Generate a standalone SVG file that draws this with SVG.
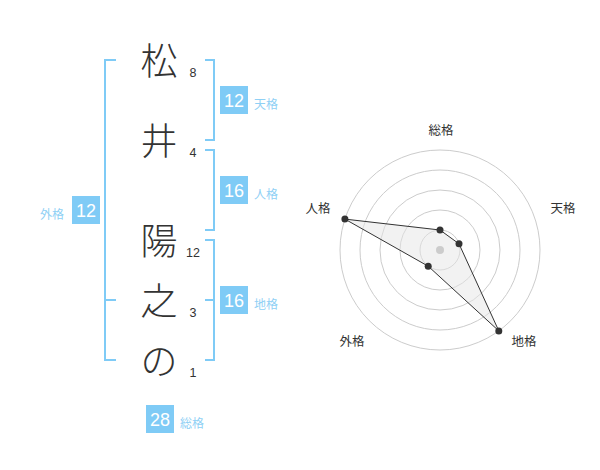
<svg xmlns="http://www.w3.org/2000/svg" width="600" height="470" viewBox="0 0 600 470">
<style>
.ch{font-family:"Noto Sans CJK JP","Noto Sans CJK SC",sans-serif;font-size:37px;font-weight:300;fill:#333;text-anchor:middle}
.num{font-family:"Liberation Sans",Arial,sans-serif;font-size:12.5px;fill:#333;text-anchor:middle}
.box{fill:#7fcbf6}
.bn{font-family:"Liberation Sans",Arial,sans-serif;font-size:18px;fill:#fff;text-anchor:middle}
.lb{font-family:"Noto Sans CJK JP","Noto Sans CJK SC",sans-serif;font-size:12px;fill:#8fd0f5}
.br{fill:none;stroke:#7fcbf6;stroke-width:2}
.ring{fill:none;stroke:#cccccc;stroke-width:1}
.rl{font-family:"Noto Sans CJK JP","Noto Sans CJK SC",sans-serif;font-size:12.5px;fill:#333;text-anchor:middle}
.pt{fill:#333}
</style>
<rect width="600" height="470" fill="#fff"/>
<g id="connectors">
<path class="br" d="M116,60 H105 V360 H116 M105,300 H116"/>
<path class="br" d="M205,60 H214 V140 H205"/>
<path class="br" d="M205,150 H214 V230 H205"/>
<path class="br" d="M205,240 H214 V360 H205 M205,300 H214"/>
</g>
<g id="char-matsu"><text class="ch" x="159" y="75">松</text><text class="num" x="193" y="77">8</text></g>
<g id="char-i"><text class="ch" x="159" y="155">井</text><text class="num" x="193" y="157">4</text></g>
<g id="char-you"><text class="ch" x="159" y="255">陽</text><text class="num" x="193" y="257">12</text></g>
<g id="char-no"><text class="ch" x="159" y="315">之</text><text class="num" x="193" y="317">3</text></g>
<g id="char-hira-no"><text class="ch" x="159" y="375">の</text><text class="num" x="193" y="377">1</text></g>
<g id="tenkaku"><rect class="box" x="220" y="86" width="28" height="28"/><text class="bn" x="234" y="107">12</text><text class="lb" x="254" y="109">天格</text></g>
<g id="jinkaku"><rect class="box" x="220" y="176" width="28" height="28"/><text class="bn" x="234" y="197">16</text><text class="lb" x="254" y="199">人格</text></g>
<g id="chikaku"><rect class="box" x="220" y="286" width="28" height="28"/><text class="bn" x="234" y="307">16</text><text class="lb" x="254" y="309">地格</text></g>
<g id="gaikaku"><rect class="box" x="72" y="196" width="28" height="28"/><text class="bn" x="86" y="217">12</text><text class="lb" x="40" y="219">外格</text></g>
<g id="soukaku"><rect class="box" x="146" y="405" width="28" height="28"/><text class="bn" x="160" y="426">28</text><text class="lb" x="180" y="428">総格</text></g>
<g id="radar">
<circle class="ring" cx="440" cy="250" r="20"/>
<circle class="ring" cx="440" cy="250" r="40"/>
<circle class="ring" cx="440" cy="250" r="60"/>
<circle class="ring" cx="440" cy="250" r="80"/>
<circle class="ring" cx="440" cy="250" r="100"/>
<polygon points="440,230 459,243.8 498.8,330.9 428.2,266.2 344.9,219.1" fill="#e6e6e6" fill-opacity="0.5" stroke="#333" stroke-width="1"/>
<circle cx="440" cy="250" r="4" fill="#cccccc"/>
<circle class="pt" cx="440" cy="230" r="3.5"/>
<circle class="pt" cx="459" cy="243.8" r="3.5"/>
<circle class="pt" cx="498.8" cy="330.9" r="3.5"/>
<circle class="pt" cx="428.2" cy="266.2" r="3.5"/>
<circle class="pt" cx="344.9" cy="219.1" r="3.5"/>
<text class="rl" x="441" y="135">総格</text>
<text class="rl" x="563" y="213">天格</text>
<text class="rl" x="524" y="346">地格</text>
<text class="rl" x="352" y="346">外格</text>
<text class="rl" x="318" y="213">人格</text>
</g>
</svg>
